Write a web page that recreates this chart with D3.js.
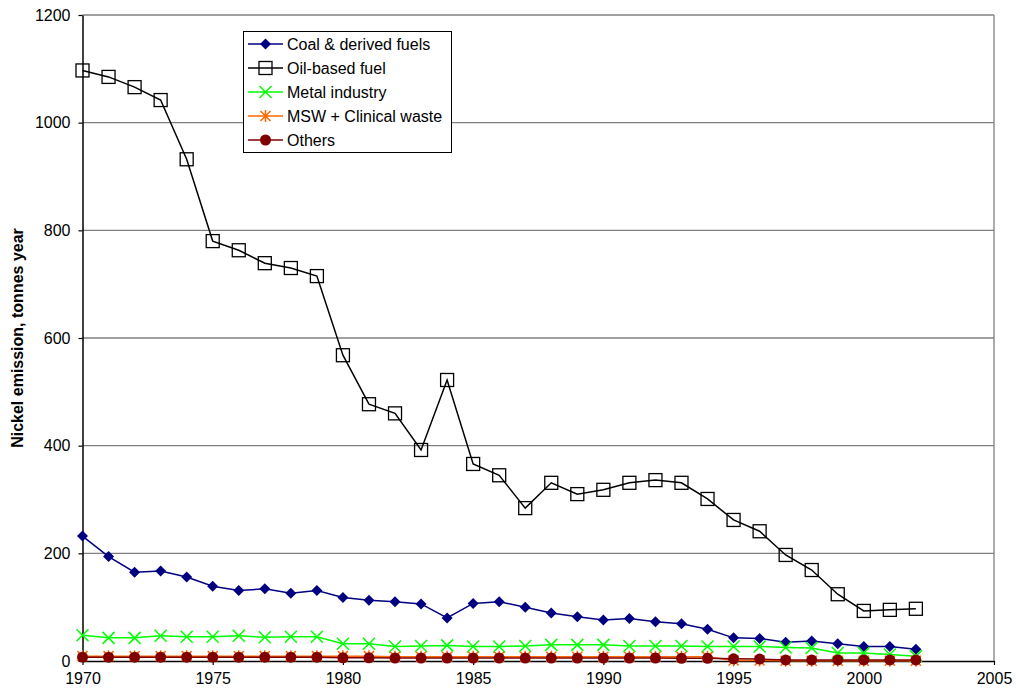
<!DOCTYPE html>
<html><head><meta charset="utf-8">
<script src="https://cdn.jsdelivr.net/npm/d3@7"></script>
<style>body{margin:0;background:#fff;font-family:"Liberation Sans",Arial,sans-serif;}</style>
</head><body><svg id="c" width="1016" height="698"></svg>
<script>
const years = d3.range(1970, 2003);
const coal = [232,194,165,167,156,139,131,134,126,131,118,113,110,106,80,107,110,100,89,82,76,79,73,69,59,43,42,35,37,32,27,27,22];
const oil = [1097,1085,1066,1042,932,780,763,739,730,715,568,477,460,392,522,366,345,284,331,310,318,331,336,331,301,262,241,197,169,124,93,95,97];
const metal = [48,43,43,47,45,45,47,44,45,45,32,32,27,28,29,27,27,28,30,30,30,28,28,28,27,27,27,25,24,15,15,12,9];
const msw = [9,9,9,9,9,9,9,9,9,9,9,9,8,8,8,8,8,8,8,8,8,8,8,8,8,1,1,0.5,0.5,0.5,0.5,0.5,0.5];
const others = [7,7,7,7,7,7,7,7,7,7,6,6,5.5,5.5,5.5,5.5,5.5,5.5,5.5,5.5,5.5,5.5,5.5,5,5,4,3.5,2,2,2,2,2,2];
const seriesNames = ["Coal & derived fuels","Oil-based fuel","Metal industry","MSW + Clinical waste","Others"];
const seriesColors = ["#000080","#000000","#00ff00","#ff6600","#800000"];
const seriesMarkers = ["diamond","square","x","star","circle"];
const xTicks = [1970,1975,1980,1985,1990,1995,2000,2005];
const yTicks = [0,200,400,600,800,1000,1200];
const yTitle = "Nickel emission, tonnes year";

const FONT = "Liberation Sans, Arial, sans-serif";
const svg = d3.select("#c");
const L=82.5, R=994, T=15, B=661;
const x = d3.scaleLinear().domain([1970,2005]).range([L,R]);
const y = d3.scaleLinear().domain([0,1200]).range([B,T]);

// gridlines
svg.append("g").selectAll("line").data(yTicks.filter(d=>d>0)).join("line")
  .attr("x1",L).attr("x2",R).attr("y1",d=>y(d)).attr("y2",d=>y(d))
  .attr("stroke","#808080").attr("stroke-width",1.3);
svg.append("line").attr("x1",R).attr("x2",R).attr("y1",T).attr("y2",B).attr("stroke","#808080").attr("stroke-width",1.3);

// axes
const yAxis = d3.axisLeft(y).tickValues(yTicks).tickFormat(d3.format("d")).tickSize(4).tickSizeOuter(0).tickPadding(8);
const gy = svg.append("g").attr("transform",`translate(${L},0)`).call(yAxis);
const xAxis = d3.axisBottom(x).tickValues(xTicks).tickFormat(d3.format("d")).tickSize(4).tickSizeOuter(0).tickPadding(8);
const gx = svg.append("g").attr("transform",`translate(0,${B})`).call(xAxis);
[gx,gy].forEach(g=>{
  g.selectAll("text").attr("font-family",FONT).attr("font-size",16).attr("fill","#000");
  g.selectAll("line").attr("stroke","#000").attr("stroke-width",1.2);
  g.select(".domain").attr("stroke","#000").attr("stroke-width",1.5);
});

svg.append("text").attr("transform",`translate(23,${(T+B)/2}) rotate(-90)`)
  .attr("text-anchor","middle").attr("font-size",16).attr("font-weight","bold")
  .attr("font-family",FONT).text(yTitle);

function marker(g, type, color, cx, cy){
  if(type==="diamond"){
    g.append("path").attr("d",`M${cx},${cy-5.5}L${cx+5.5},${cy}L${cx},${cy+5.5}L${cx-5.5},${cy}Z`).attr("fill",color);
  } else if(type==="square"){
    g.append("rect").attr("x",cx-6.5).attr("y",cy-6.5).attr("width",13).attr("height",13).attr("fill","none").attr("stroke",color).attr("stroke-width",1.3);
  } else if(type==="x"){
    g.append("path").attr("d",`M${cx-6},${cy-6}L${cx+6},${cy+6}M${cx-6},${cy+6}L${cx+6},${cy-6}`).attr("stroke",color).attr("stroke-width",1.5);
  } else if(type==="star"){
    g.append("path").attr("d",`M${cx-5},${cy-5}L${cx+5},${cy+5}M${cx-5},${cy+5}L${cx+5},${cy-5}M${cx},${cy-6}L${cx},${cy+6}`).attr("stroke",color).attr("stroke-width",1.5);
  } else if(type==="circle"){
    g.append("circle").attr("cx",cx).attr("cy",cy).attr("r",5.5).attr("fill",color);
  }
}

const allSeries = [coal,oil,metal,msw,others];
const line = d3.line().x((d,i)=>x(years[i])).y(d=>y(d));
allSeries.forEach((vals,k)=>{
  const g = svg.append("g");
  g.append("path").datum(vals).attr("d",line).attr("fill","none").attr("stroke",seriesColors[k]).attr("stroke-width",1.5);
  vals.forEach((v,i)=>marker(g, seriesMarkers[k], seriesColors[k], x(years[i]), y(v)));
});

// legend
const lg = svg.append("g");
lg.append("rect").attr("x",243.5).attr("y",31.5).attr("width",208).attr("height",121).attr("fill","#fff").attr("stroke","#000").attr("stroke-width",1);
seriesNames.forEach((n,k)=>{
  const yy = 44 + k*24;
  lg.append("line").attr("x1",248).attr("x2",283).attr("y1",yy).attr("y2",yy).attr("stroke",seriesColors[k]).attr("stroke-width",1.5);
  marker(lg, seriesMarkers[k], seriesColors[k], 265.5, yy);
  lg.append("text").attr("x",287).attr("y",yy+5.5).attr("font-size",16).attr("font-family",FONT).text(n);
});
</script></body></html>
